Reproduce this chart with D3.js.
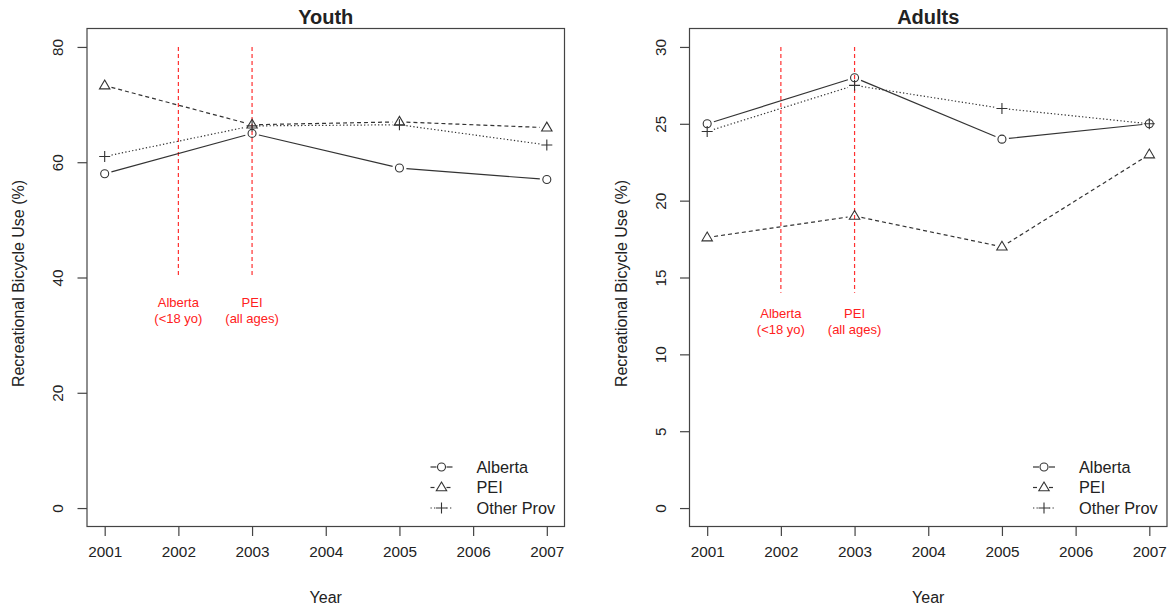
<!DOCTYPE html>
<html>
<head>
<meta charset="utf-8">
<script src="https://cdn.jsdelivr.net/npm/d3@7"></script>
<style>
  body { margin: 0; background: #fff; }
  text { font-family: "Liberation Sans", Arial, Helvetica, sans-serif; fill: #222; }
</style>
</head>
<body>
<svg id="chart" width="1173" height="608"></svg>
<script>
// Survey years and axis ticks
const years = [2001, 2003, 2005, 2007];
const xTicks = [2001, 2002, 2003, 2004, 2005, 2006, 2007];
const seriesNames = ["Alberta", "PEI", "Other Prov"];

// Recreational bicycle use (%), youth
const youthAlberta = [58, 65, 59, 57];
const youthPEI = [73.3, 66.5, 67, 66];
const youthOther = [61, 66.3, 66.5, 63];
const youthTicks = [0, 20, 40, 60, 80];

// Recreational bicycle use (%), adults
const adultAlberta = [25, 28, 24, 25];
const adultPEI = [17.6, 19, 17, 23];
const adultOther = [24.5, 27.5, 26, 25];
const adultTicks = [0, 5, 10, 15, 20, 25, 30];

// Helmet legislation years and their notes
const policyYears = [2002, 2003];
const policyLabels = [["Alberta", "(<18 yo)"], ["PEI", "(all ages)"]];

const svg = d3.select("#chart");
const ink = "#333";

const styles = [
  { dash: null, shape: "circle" },
  { dash: "4,3", shape: "triangle" },
  { dash: "1.3,2.2", shape: "plus" }
];

const panels = [
  { title: "Youth", series: [youthAlberta, youthPEI, youthOther], yMax: 80, ticks: youthTicks,
    left: 87, right: 564.5, lineSpan: [40, 80], noteAt: 34.4 },
  { title: "Adults", series: [adultAlberta, adultPEI, adultOther], yMax: 30, ticks: adultTicks,
    left: 689.5, right: 1167, lineSpan: [14, 30], noteAt: 12.2 }
];
const plotTop = 28.5, plotBottom = 526.5;

function drawSymbol(g, shape, cx, cy) {
  if (shape === "circle") {
    g.append("circle").attr("cx", cx).attr("cy", cy).attr("r", 4)
      .attr("fill", "none").attr("stroke", ink).attr("stroke-width", 1.1);
  } else if (shape === "triangle") {
    g.append("path")
      .attr("d", `M${cx},${cy - 5.5}L${cx + 5.2},${cy + 3.3}L${cx - 5.2},${cy + 3.3}Z`)
      .attr("fill", "none").attr("stroke", ink).attr("stroke-width", 1.1);
  } else {
    g.append("path")
      .attr("d", `M${cx - 5.5},${cy}H${cx + 5.5}M${cx},${cy - 5.5}V${cy + 5.5}`)
      .attr("fill", "none").attr("stroke", ink).attr("stroke-width", 1.1);
  }
}

panels.forEach(p => {
  const xPad = (xTicks[xTicks.length - 1] - xTicks[0]) * 0.04;
  const x = d3.scaleLinear()
    .domain([xTicks[0] - xPad, xTicks[xTicks.length - 1] + xPad])
    .range([p.left, p.right]);
  const yPad = p.yMax * 0.04;
  const y = d3.scaleLinear().domain([-yPad, p.yMax + yPad]).range([plotBottom, plotTop]);

  const g = svg.append("g");

  // plot frame
  g.append("rect")
    .attr("x", p.left).attr("y", plotTop)
    .attr("width", p.right - p.left).attr("height", plotBottom - plotTop)
    .attr("fill", "none").attr("stroke", "#444").attr("stroke-width", 1.2);

  // x axis
  const xa = g.append("g").attr("transform", `translate(0,${plotBottom})`)
    .call(d3.axisBottom(x).tickValues(xTicks).tickFormat(d3.format("d"))
      .tickSize(9.5).tickPadding(10));
  xa.select(".domain").remove();
  xa.selectAll("line").attr("stroke", "#444").attr("stroke-width", 1.2);
  xa.selectAll("text").attr("font-size", 15.3).attr("fill", "#222");

  // y axis with rotated labels
  const ya = g.append("g").attr("transform", `translate(${p.left},0)`)
    .call(d3.axisLeft(y).tickValues(p.ticks).tickSize(9.5).tickFormat(d3.format("d")));
  ya.select(".domain").remove();
  ya.selectAll("line").attr("stroke", "#444").attr("stroke-width", 1.2);
  ya.selectAll("text")
    .attr("x", 0).attr("dy", 0)
    .attr("transform", "translate(-24,0) rotate(-90)")
    .attr("text-anchor", "middle")
    .attr("font-size", 15.3).attr("fill", "#222");

  // titles
  g.append("text").attr("x", (p.left + p.right) / 2).attr("y", 24)
    .attr("text-anchor", "middle").attr("font-size", 20).attr("font-weight", "bold")
    .text(p.title);
  g.append("text").attr("x", (p.left + p.right) / 2).attr("y", 603)
    .attr("text-anchor", "middle").attr("font-size", 16).text("Year");
  g.append("text")
    .attr("transform", `translate(${p.left - 63},${(plotTop + plotBottom) / 2 + 6}) rotate(-90)`)
    .attr("text-anchor", "middle").attr("font-size", 16)
    .text("Recreational Bicycle Use (%)");

  // legislation markers
  policyYears.forEach((yr, i) => {
    g.append("line")
      .attr("x1", x(yr)).attr("x2", x(yr))
      .attr("y1", y(p.lineSpan[1])).attr("y2", y(p.lineSpan[0]))
      .attr("stroke", "#ff3030").attr("stroke-width", 1.2).attr("stroke-dasharray", "4,3");
    const t = g.append("text").attr("x", x(yr)).attr("y", y(p.noteAt))
      .attr("text-anchor", "middle").attr("font-size", 13).style("fill", "#ff2020");
    t.append("tspan").attr("x", x(yr)).attr("dy", "-0.2em").text(policyLabels[i][0]);
    t.append("tspan").attr("x", x(yr)).attr("dy", "1.22em").text(policyLabels[i][1]);
  });

  // series: lines broken around each point, then the point symbols
  const gap = 7;
  p.series.forEach((vals, si) => {
    const st = styles[si];
    const pts = years.map((yr, k) => [x(yr), y(vals[k])]);
    for (let k = 0; k < pts.length - 1; k++) {
      const [x0, y0] = pts[k], [x1, y1] = pts[k + 1];
      const len = Math.hypot(x1 - x0, y1 - y0);
      if (len <= 2 * gap) continue;
      const ux = (x1 - x0) / len, uy = (y1 - y0) / len;
      g.append("line")
        .attr("x1", x0 + ux * gap).attr("y1", y0 + uy * gap)
        .attr("x2", x1 - ux * gap).attr("y2", y1 - uy * gap)
        .attr("stroke", ink).attr("stroke-width", 1.2)
        .attr("stroke-dasharray", st.dash);
    }
    pts.forEach(([cx, cy]) => drawSymbol(g, st.shape, cx, cy));
  });

  // legend
  const tx = p.right - 88;
  seriesNames.forEach((name, si) => {
    const st = styles[si];
    const ly = 467 + 20.5 * si;
    const cx = tx - 35;
    [[tx - 46, cx - 5], [cx + 5, tx - 24]].forEach(([a, b]) => {
      g.append("line").attr("x1", a).attr("x2", b).attr("y1", ly).attr("y2", ly)
        .attr("stroke", ink).attr("stroke-width", 1.2).attr("stroke-dasharray", st.dash);
    });
    drawSymbol(g, st.shape, cx, ly);
    g.append("text").attr("x", tx).attr("y", ly).attr("dy", "0.36em")
      .attr("font-size", 16.3).text(name);
  });
});
</script>
</body>
</html>
